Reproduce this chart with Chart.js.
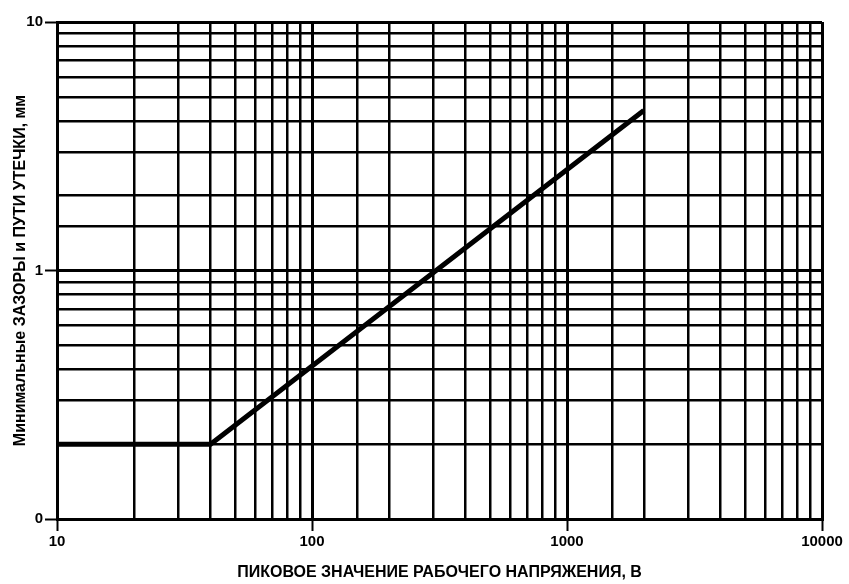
<!DOCTYPE html>
<html>
<head>
<meta charset="utf-8">
<script src="https://cdn.jsdelivr.net/npm/chart.js@4"></script>
<style>
  html, body { margin: 0; padding: 0; background: #fff; }
  #wrap { width: 849px; height: 584px; }
</style>
</head>
<body>
<div id="wrap"><canvas id="myChart"></canvas></div>
<script>
// values (log-log)
const voltage = [10, 40, 2000];
const clearance = [0.2, 0.2, 4.4];
const xMajors = [10, 100, 1000, 10000];
const yMajors = [0.1, 1, 10];
const yTickLabels = ["0", "1", "10"];
const xTitle = "ПИКОВОЕ ЗНАЧЕНИЕ РАБОЧЕГО НАПРЯЖЕНИЯ, В";
const yTitle = "Минимальные ЗАЗОРЫ и ПУТИ УТЕЧКИ, мм";

function findMajor(list, v) {
  return list.findIndex(m => Math.abs(m - v) / m < 1e-6);
}

const points = voltage.map((x, i) => ({ x: x, y: clearance[i] }));

const ctx = document.getElementById("myChart").getContext("2d");
const chart = new Chart(ctx, {
  type: "line",
  data: {
    datasets: [
      {
        label: "clearance",
        data: points,
        borderColor: "#000",
        borderWidth: 5,
        pointRadius: 0,
        tension: 0,
        fill: false
      }
    ]
  },
  options: {
    responsive: true,
    maintainAspectRatio: false,
    animation: false,
    layout: { padding: { top: 22, right: 27, left: 0, bottom: 0 } },
    plugins: { legend: { display: false }, tooltip: { enabled: false } },
    scales: {
      x: {
        type: "logarithmic",
        min: 10,
        max: 10000,
        afterFit: scale => { scale.height = 65; },
        border: { color: "#000", width: 3 },
        grid: {
          color: "#000",
          lineWidth: c => findMajor(xMajors, c.tick.value) >= 0 ? 3 : 2.5,
          tickColor: c => findMajor(xMajors, c.tick.value) >= 0 ? "#000" : "rgba(0,0,0,0)",
          tickLength: 12,
          tickWidth: 2
        },
        ticks: {
          autoSkip: false,
          maxRotation: 0,
          color: "#000",
          padding: 2,
          font: { family: "Liberation Sans", size: 15, weight: "bold" },
          callback: v => findMajor(xMajors, v) >= 0 ? String(v) : ""
        },
        title: {
          display: true,
          text: xTitle,
          color: "#000",
          padding: { top: 6, bottom: 2 },
          font: { family: "Liberation Sans", size: 16, weight: "bold" }
        }
      },
      y: {
        type: "logarithmic",
        min: 0.1,
        max: 10,
        afterFit: scale => { scale.width = 57; },
        border: { color: "#000", width: 3 },
        grid: {
          color: "#000",
          lineWidth: c => findMajor(yMajors, c.tick.value) >= 0 ? 3 : 2.5,
          tickColor: c => findMajor(yMajors, c.tick.value) >= 0 ? "#000" : "rgba(0,0,0,0)",
          tickLength: 12,
          tickWidth: 2
        },
        ticks: {
          autoSkip: false,
          color: "#000",
          padding: 2,
          font: { family: "Liberation Sans", size: 15, weight: "bold" },
          callback: v => {
            const i = findMajor(yMajors, v);
            return i >= 0 ? yTickLabels[i] : "";
          }
        },
        title: {
          display: true,
          text: yTitle,
          color: "#000",
          padding: { top: 11, bottom: 4 },
          font: { family: "Liberation Sans", size: 16, weight: "bold" }
        }
      }
    }
  }
});
</script>
</body>
</html>
